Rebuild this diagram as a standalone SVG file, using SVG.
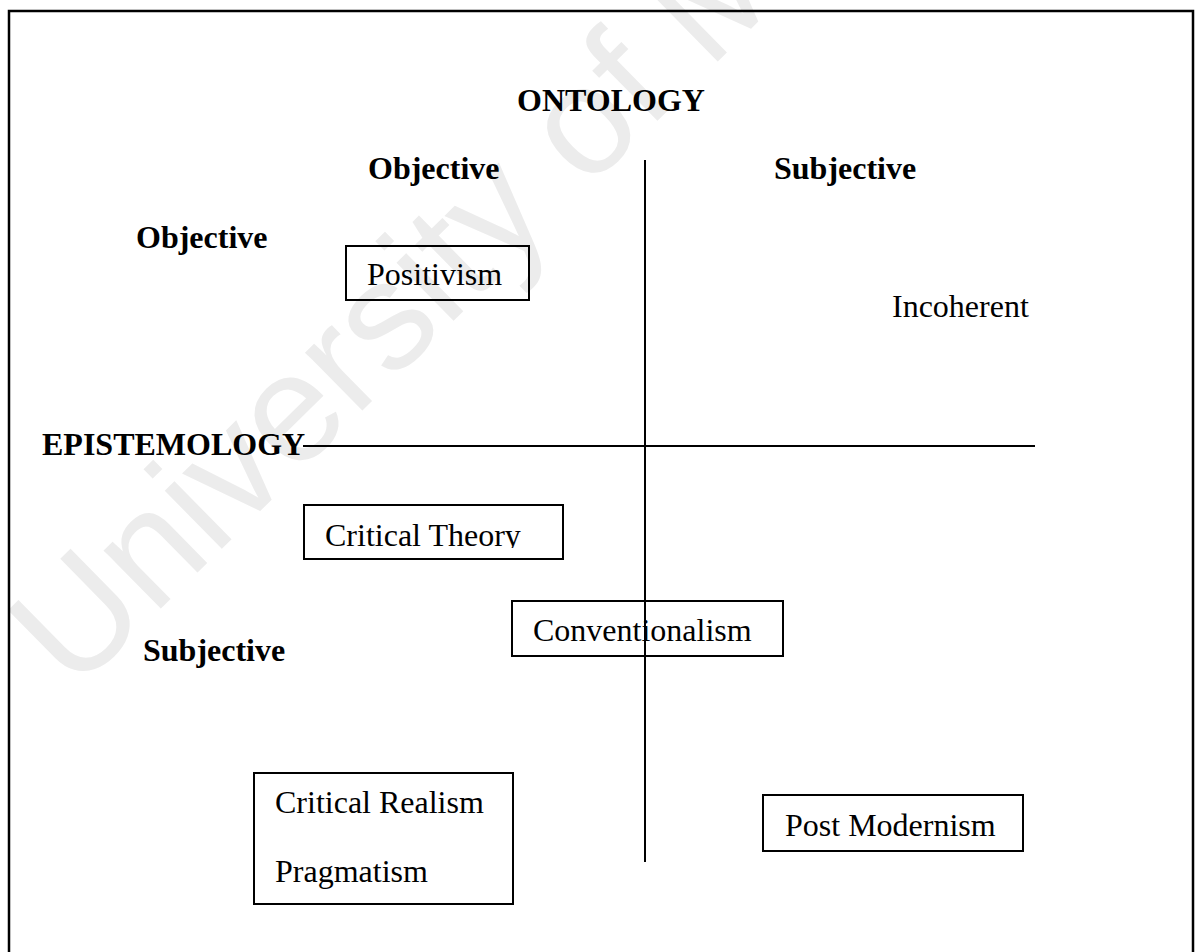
<svg xmlns="http://www.w3.org/2000/svg" width="1195" height="952" viewBox="0 0 1195 952">
  <style>
    .head { font-family: "Liberation Serif", "Times New Roman", serif; font-size: 32px; font-weight: bold; fill: #000; }
    .lbl { font-family: "Liberation Serif", "Times New Roman", serif; font-size: 32px; fill: #000; }
    .box { fill: none; stroke: #000; stroke-width: 2; }
    .axis { stroke: #000; stroke-width: 2; fill: none; }
    .mark { font-family: "Liberation Sans", Arial, sans-serif; font-size: 154px; fill: #ececec; }
  </style>
  <defs>
    <clipPath id="clip-ct">
      <rect x="300" y="500" width="270" height="48"/>
    </clipPath>
  </defs>

  <rect width="1195" height="952" fill="#fff"/>

  <!-- watermark -->
  <text class="mark" transform="translate(74,694) rotate(-44.5)">University of Malaya</text>

  <!-- outer frame -->
  <rect x="9" y="11" width="1184" height="980" fill="none" stroke="#000" stroke-width="2.5"/>

  <!-- axis headings -->
  <g id="ontology"><text class="head" x="517" y="111">ONTOLOGY</text></g>
  <g id="ont-objective"><text class="head" x="368" y="179">Objective</text></g>
  <g id="ont-subjective"><text class="head" x="774" y="179">Subjective</text></g>
  <g id="epi-objective"><text class="head" x="136" y="248">Objective</text></g>
  <g id="epistemology"><text class="head" x="42" y="455">EPISTEMOLOGY</text></g>
  <g id="epi-subjective"><text class="head" x="143" y="661">Subjective</text></g>

  <!-- axes -->
  <g id="connectors">
    <line class="axis" x1="303" y1="446" x2="1035" y2="446"/>
    <line class="axis" x1="645" y1="160" x2="645" y2="862"/>
  </g>

  <!-- paradigms -->
  <g id="positivism">
    <rect class="box" x="346" y="246" width="183" height="54"/>
    <text class="lbl" x="367" y="285">Positivism</text>
  </g>
  <g id="incoherent">
    <text class="lbl" x="892" y="317">Incoherent</text>
  </g>
  <g id="critical-theory">
    <rect class="box" x="304" y="505" width="259" height="54"/>
    <text class="lbl" x="325" y="546" clip-path="url(#clip-ct)">Critical Theory</text>
  </g>
  <g id="conventionalism">
    <rect class="box" x="512" y="601" width="271" height="55"/>
    <text class="lbl" x="533" y="641">Conventionalism</text>
  </g>
  <g id="realism-pragmatism">
    <rect class="box" x="254" y="773" width="259" height="131"/>
    <text class="lbl" x="275" y="813">Critical Realism</text>
    <text class="lbl" x="275" y="882">Pragmatism</text>
  </g>
  <g id="post-modernism">
    <rect class="box" x="763" y="795" width="260" height="56"/>
    <text class="lbl" x="785" y="836">Post Modernism</text>
  </g>
</svg>
